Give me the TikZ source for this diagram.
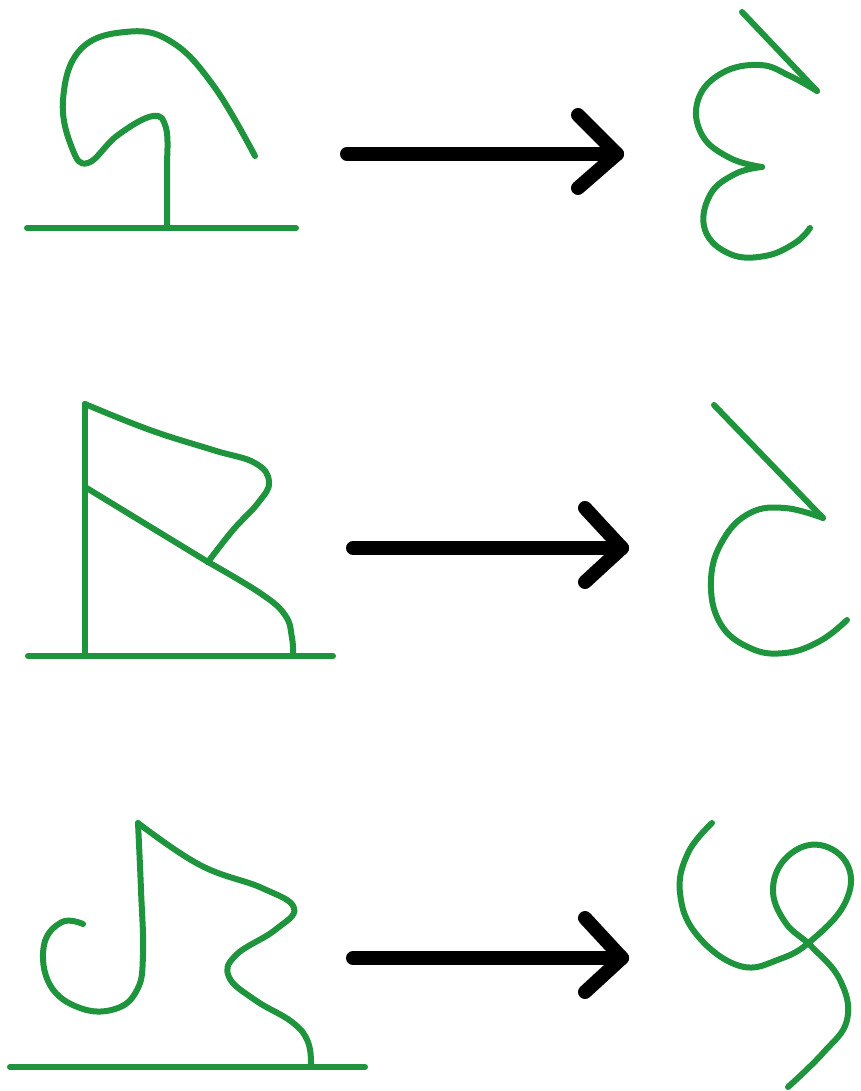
\documentclass[tikz,border=0pt]{standalone}
\definecolor{strokegreen}{RGB}{30,148,60}
\tikzset{
  glyph/.style={draw=strokegreen, line width=6pt, line cap=round, line join=round},
  bigarrow/.style={draw=black, line width=14pt, line cap=round, line join=round}
}
\begin{document}
\begin{tikzpicture}[x=1pt,y=-1pt]
\useasboundingbox[fill=white] (0,0) rectangle (861,1091);

% ---------- row 1, left ----------
\draw[glyph] (27,228) -- (296,228);
\draw[glyph] plot[smooth, tension=0.7] coordinates {(255,156) (213,85) (170,41) (125,32) (80,50) (63,100) (72,148) (88,163) (118,135) (153,116) (166,128) (167,160)} -- (167,228);

% ---------- row 1, right ----------
\draw[glyph] (742,12) -- (817,91);
\draw[glyph] plot[smooth, tension=0.7] coordinates {(817,91) (790,76) (760,65) (722,73) (698,100) (702,135) (730,158) (762,167)};
\draw[glyph] plot[smooth, tension=0.7] coordinates {(762,167) (735,174) (710,195) (705,230) (730,254) (765,256) (795,243) (810,228)};

% ---------- row 2, left ----------
\draw[glyph] (28,656) -- (333,656);
\draw[glyph] (85,656) -- (85,404);
\draw[glyph] plot[smooth, tension=0.7] coordinates {(85,404) (150,430) (213,450) (255,463) (269,482) (258,503) (233,530) (208,562)};
\draw[glyph] (85,487) -- (208,562);
\draw[glyph] plot[smooth, tension=0.7] coordinates {(208,562) (260,593) (285,615) (292,638) (293,656)};

% ---------- row 2, right ----------
\draw[glyph] (714,405) -- (823,518);
\draw[glyph] plot[smooth, tension=0.7] coordinates {(823,518) (785,508) (750,513) (723,540) (711,580) (720,623) (750,648) (785,653) (820,641) (847,620)};

% ---------- row 3, left ----------
\draw[glyph] (10,1067) -- (365,1067);
\draw[glyph] plot[smooth, tension=0.7] coordinates {(83,924) (62,922) (44,945) (50,985) (80,1008) (115,1009) (137,990) (143,955) (141,890) (138,823)};
\draw[glyph] plot[smooth, tension=0.7] coordinates {(138,823) (200,865) (262,888) (294,908) (275,930) (236,955) (229,977) (255,1000) (292,1022) (308,1042) (311,1067)};

% ---------- row 3, right ----------
\draw[glyph] plot[smooth, tension=0.7] coordinates {(712,823) (688,853) (680,893) (697,935) (740,966) (780,959) (812,940) (845,903) (848,866) (820,845) (788,856) (773,888) (785,922) (812,947) (840,980) (847,1020) (823,1053) (788,1087)};

% ---------- arrows ----------
\coordinate (a1s) at (347,154); \coordinate (a1t) at (617,154);
\coordinate (a1u) at (578,115); \coordinate (a1l) at (578,188);
\draw[bigarrow] (a1s) -- (a1t);
\draw[bigarrow] (a1u) -- (a1t) -- (a1l);

\coordinate (a2s) at (353,548); \coordinate (a2t) at (622,548);
\coordinate (a2u) at (585,508); \coordinate (a2l) at (585,582);
\draw[bigarrow] (a2s) -- (a2t);
\draw[bigarrow] (a2u) -- (a2t) -- (a2l);

\coordinate (a3s) at (353,958); \coordinate (a3t) at (622,958);
\coordinate (a3u) at (585,918); \coordinate (a3l) at (585,992);
\draw[bigarrow] (a3s) -- (a3t);
\draw[bigarrow] (a3u) -- (a3t) -- (a3l);
\end{tikzpicture}
\end{document}
